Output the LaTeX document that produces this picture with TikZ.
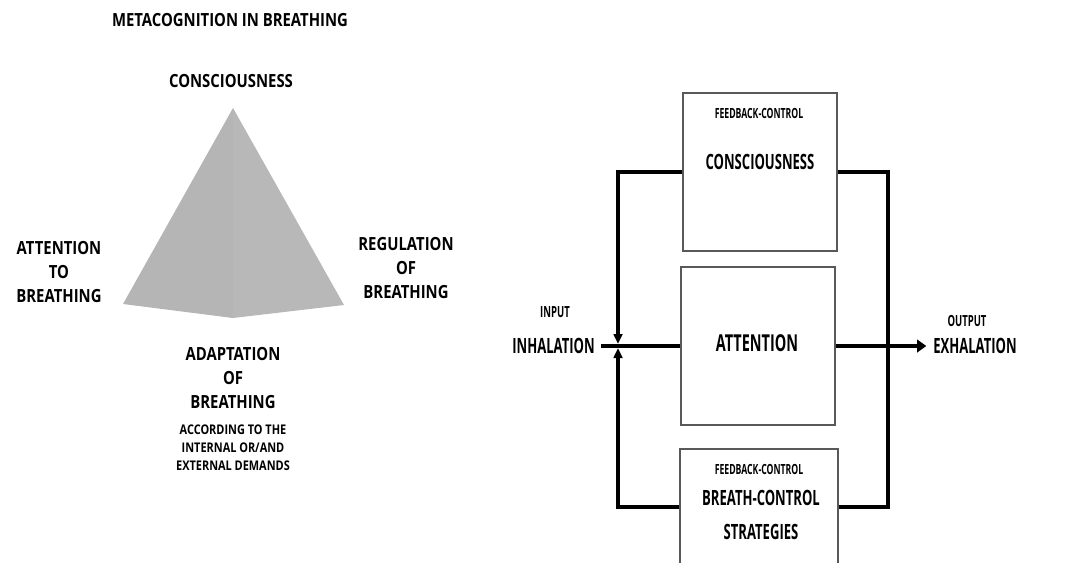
\documentclass[tikz,border=0pt]{standalone}
\usepackage{fontspec}
\setmainfont{Open Sans}[FakeStretch=0.82]
\newfontfamily\condfont{Open Sans}[FakeStretch=0.62]
\usetikzlibrary{arrows.meta,positioning}

\tikzset{
  every node/.style={font=\bfseries, align=center, inner sep=0pt},
  ttl/.style={font=\fontsize{13.6}{15}\selectfont\bfseries},
  lbl/.style={font=\fontsize{13.6}{18}\selectfont\bfseries},
  sml/.style={font=\fontsize{10}{13.5}\selectfont\bfseries},
  boxtxt/.style={font=\condfont\fontsize{15.8}{25.5}\selectfont\bfseries},
  tag/.style={font=\condfont\fontsize{10.5}{12}\selectfont\bfseries},
  iotag/.style={font=\condfont\fontsize{11.5}{13}\selectfont\bfseries},
  blk/.style={draw=black!65, line width=0.8pt, minimum width=115.5pt, minimum height=118.5pt},
  fb/.style={line width=2.8pt},
  tip/.style={-{Triangle[width=6.5pt,length=7.5pt]}},
  pyrL/.style={fill=black!29},
  pyrR/.style={fill=black!28},
}

\begin{document}
\begin{tikzpicture}[x=0.75pt,y=-0.75pt]
    \useasboundingbox (0,0) rectangle (1091,562);
    \clip (0,0) rectangle (1091,562);
    % Pyramid
    \coordinate (apex) at (233,108);
    \coordinate (pl) at (123,304);
    \coordinate (pb) at (233,318);
    \coordinate (pr) at (344,305);
    \fill[pyrL] (apex) -- (pl) -- (pb) -- cycle;
    \fill[pyrR] (apex) -- (pb) -- (pr) -- cycle;
    % Pyramid labels
    \node[ttl] (title) at (230,20) {METACOGNITION IN BREATHING};
    \node[lbl] (cons) at (231,81) {CONSCIOUSNESS};
    \node[lbl] (attn) at (59,272) {ATTENTION\\TO\\BREATHING};
    \node[lbl] (regl) at (406,268) {REGULATION\\OF\\BREATHING};
    \node[lbl] (adap) at (233,378) {ADAPTATION\\OF\\BREATHING};
    \node[sml] (dem) at (233,448) {ACCORDING TO THE\\INTERNAL OR/AND\\EXTERNAL DEMANDS};
    % Blocks
    \node[blk] (cbox) at (760,172) {};
    \node[blk] (abox) at (758,346) {};
    \node[blk, minimum width=118.5pt, minimum height=87pt] (bbox) at (759,507) {};
    \node[tag] (ctag) at (759,113) {FEEDBACK-CONTROL};
    \node[boxtxt] (ctxt) at (760,162) {CONSCIOUSNESS};
    \node[boxtxt, font=\condfont\fontsize{17.5}{20}\selectfont\bfseries] (atxt) at (757,343) {ATTENTION};
    \node[tag] (btag) at (759,469) {FEEDBACK-CONTROL};
    \node[boxtxt] (btxt) at (761,515) {BREATH-CONTROL\\STRATEGIES};
    % Input and output
    \node[iotag] (inp) at (555,312) {INPUT};
    \node[boxtxt, anchor=east] (inh) at (595,346) {INHALATION};
    \node[iotag] (outp) at (967,321) {OUTPUT};
    \node[boxtxt, anchor=west] (exh) at (933,346) {EXHALATION};
    \coordinate (jn) at (618,346);
    \coordinate (rj) at (888,346);
    % Connectors
    \draw[fb] ([xshift=4.5pt]inh.east) -- (abox.west);
    \draw[fb, -{Triangle[width=9.5pt,length=7pt]}] (abox.east) -- ([xshift=-5pt]exh.west);
    \draw[fb, tip] (cbox.west) -| ([yshift=1.5pt]jn);
    \draw[fb, tip] (bbox.west) -| ([yshift=-1.5pt]jn);
    \draw[fb] (cbox.east) -| (rj) |- (bbox.east);
\end{tikzpicture}
\end{document}
